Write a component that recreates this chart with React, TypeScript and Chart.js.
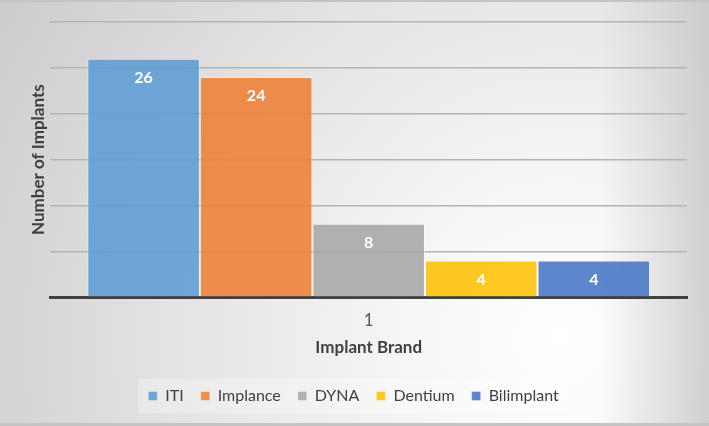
import React, { useEffect, useRef } from "react";
import { Chart, registerables } from "chart.js";

Chart.register(...registerables);

const categories = ["1"];
const seriesNames = ["ITI", "Implance", "DYNA", "Dentium", "Bilimplant"];
const seriesValues = [26, 24, 8, 4, 4];
const seriesColors = [
  "rgba(91,155,213,0.86)",
  "rgba(237,125,49,0.86)",
  "rgba(165,165,165,0.86)",
  "rgba(255,192,0,0.86)",
  "rgba(68,114,196,0.86)",
];
const yTicks = [0, 5, 10, 15, 20, 25, 30];

const FONT = "Lato, 'Open Sans', sans-serif";

const bgPlugin = {
  id: "bgGradient",
  beforeDraw(chart: any) {
    const { ctx, width, height } = chart;
    ctx.save();
    const g = ctx.createRadialGradient(560, 340, 0, 560, 340, 640);
    g.addColorStop(0, "#ffffff");
    g.addColorStop(0.2, "#f8f8f8");
    g.addColorStop(0.6, "#e4e4e4");
    g.addColorStop(1, "#cdcdcd");
    ctx.fillStyle = g;
    ctx.fillRect(0, 0, width, height);
    const g2 = ctx.createLinearGradient(width - 110, 0, width, 0);
    g2.addColorStop(0, "rgba(200,200,200,0)");
    g2.addColorStop(1, "rgba(195,195,195,0.75)");
    ctx.fillStyle = g2;
    ctx.fillRect(width - 110, 0, 110, height);
    ctx.fillStyle = "#c4c4c4";
    ctx.fillRect(0, 0, width, 2);
    ctx.fillRect(0, height - 3, width, 3);
    const lg = chart.legend;
    if (lg && lg.legendHitBoxes && lg.legendHitBoxes.length) {
      const boxes = lg.legendHitBoxes;
      const x0 = boxes[0].left - 10;
      const last = boxes[boxes.length - 1];
      const x1 = last.left + last.width + 12;
      const yc = boxes[0].top + boxes[0].height / 2;
      ctx.fillStyle = "rgba(255,255,255,0.28)";
      ctx.fillRect(x0, yc - 17, x1 - x0, 34);
    }
    ctx.restore();
  },
};

const labelPlugin = {
  id: "barLabels",
  afterDatasetsDraw(chart: any) {
    const { ctx } = chart;
    ctx.save();
    ctx.fillStyle = "#ffffff";
    ctx.font = `bold 16px ${FONT}`;
    ctx.textAlign = "center";
    ctx.textBaseline = "middle";
    chart.data.datasets.forEach((ds: any, i: number) => {
      const meta = chart.getDatasetMeta(i);
      meta.data.forEach((bar: any, j: number) => {
        ctx.fillText(String(ds.data[j]), bar.x, bar.y + 19);
      });
    });
    ctx.restore();
  },
};

export default function App() {
  const ref = useRef<HTMLCanvasElement | null>(null);
  useEffect(() => {
    document.body.style.margin = "0";
    if (!ref.current) return;
    const chart = new Chart(ref.current, {
      type: "bar",
      data: {
        labels: categories,
        datasets: seriesNames.map((name, i) => ({
          label: name,
          data: [seriesValues[i]],
          backgroundColor: seriesColors[i],
          borderColor: "rgba(255,255,255,0.35)",
          borderWidth: 1,
          categoryPercentage: 0.884,
          barPercentage: 1,
        })),
      },
      options: {
        responsive: false,
        animation: false,
        maintainAspectRatio: false,
        layout: { padding: { top: 22, left: 20, right: 22, bottom: 12 } },
        plugins: {
          tooltip: { enabled: false },
          legend: {
            position: "bottom",
            labels: {
              boxWidth: 9,
              boxHeight: 9,
              padding: 17,
              color: "#404040",
              font: { family: FONT, size: 16 },
            },
          },
        },
        scales: {
          x: {
            grid: { display: false, drawTicks: false },
            border: { display: true, color: "#404040", width: 3 },
            ticks: {
              color: "#595959",
              padding: 13,
              font: { family: FONT, size: 17 },
            },
            title: {
              display: true,
              text: "Implant Brand",
              color: "#404040",
              font: { family: FONT, size: 17, weight: "bold" },
              padding: { top: -6, bottom: 13 },
            },
          },
          y: {
            min: yTicks[0],
            max: yTicks[yTicks.length - 1],
            afterBuildTicks: (axis: any) => {
              axis.ticks = yTicks.map((v) => ({ value: v }));
            },
            grid: { color: "#b4b4b4", lineWidth: 1.5, drawTicks: false },
            border: { display: false },
            ticks: { display: false },
            title: {
              display: true,
              text: "Number of Implants",
              color: "#404040",
              font: { family: FONT, size: 17, weight: "bold" },
              padding: { top: 8, bottom: 2 },
            },
          },
        },
      },
      plugins: [bgPlugin, labelPlugin],
    });
    return () => chart.destroy();
  }, []);
  return (
    <div style={{ width: 709, height: 426 }}>
      <canvas ref={ref} width={709} height={426} style={{ display: "block" }} />
    </div>
  );
}
